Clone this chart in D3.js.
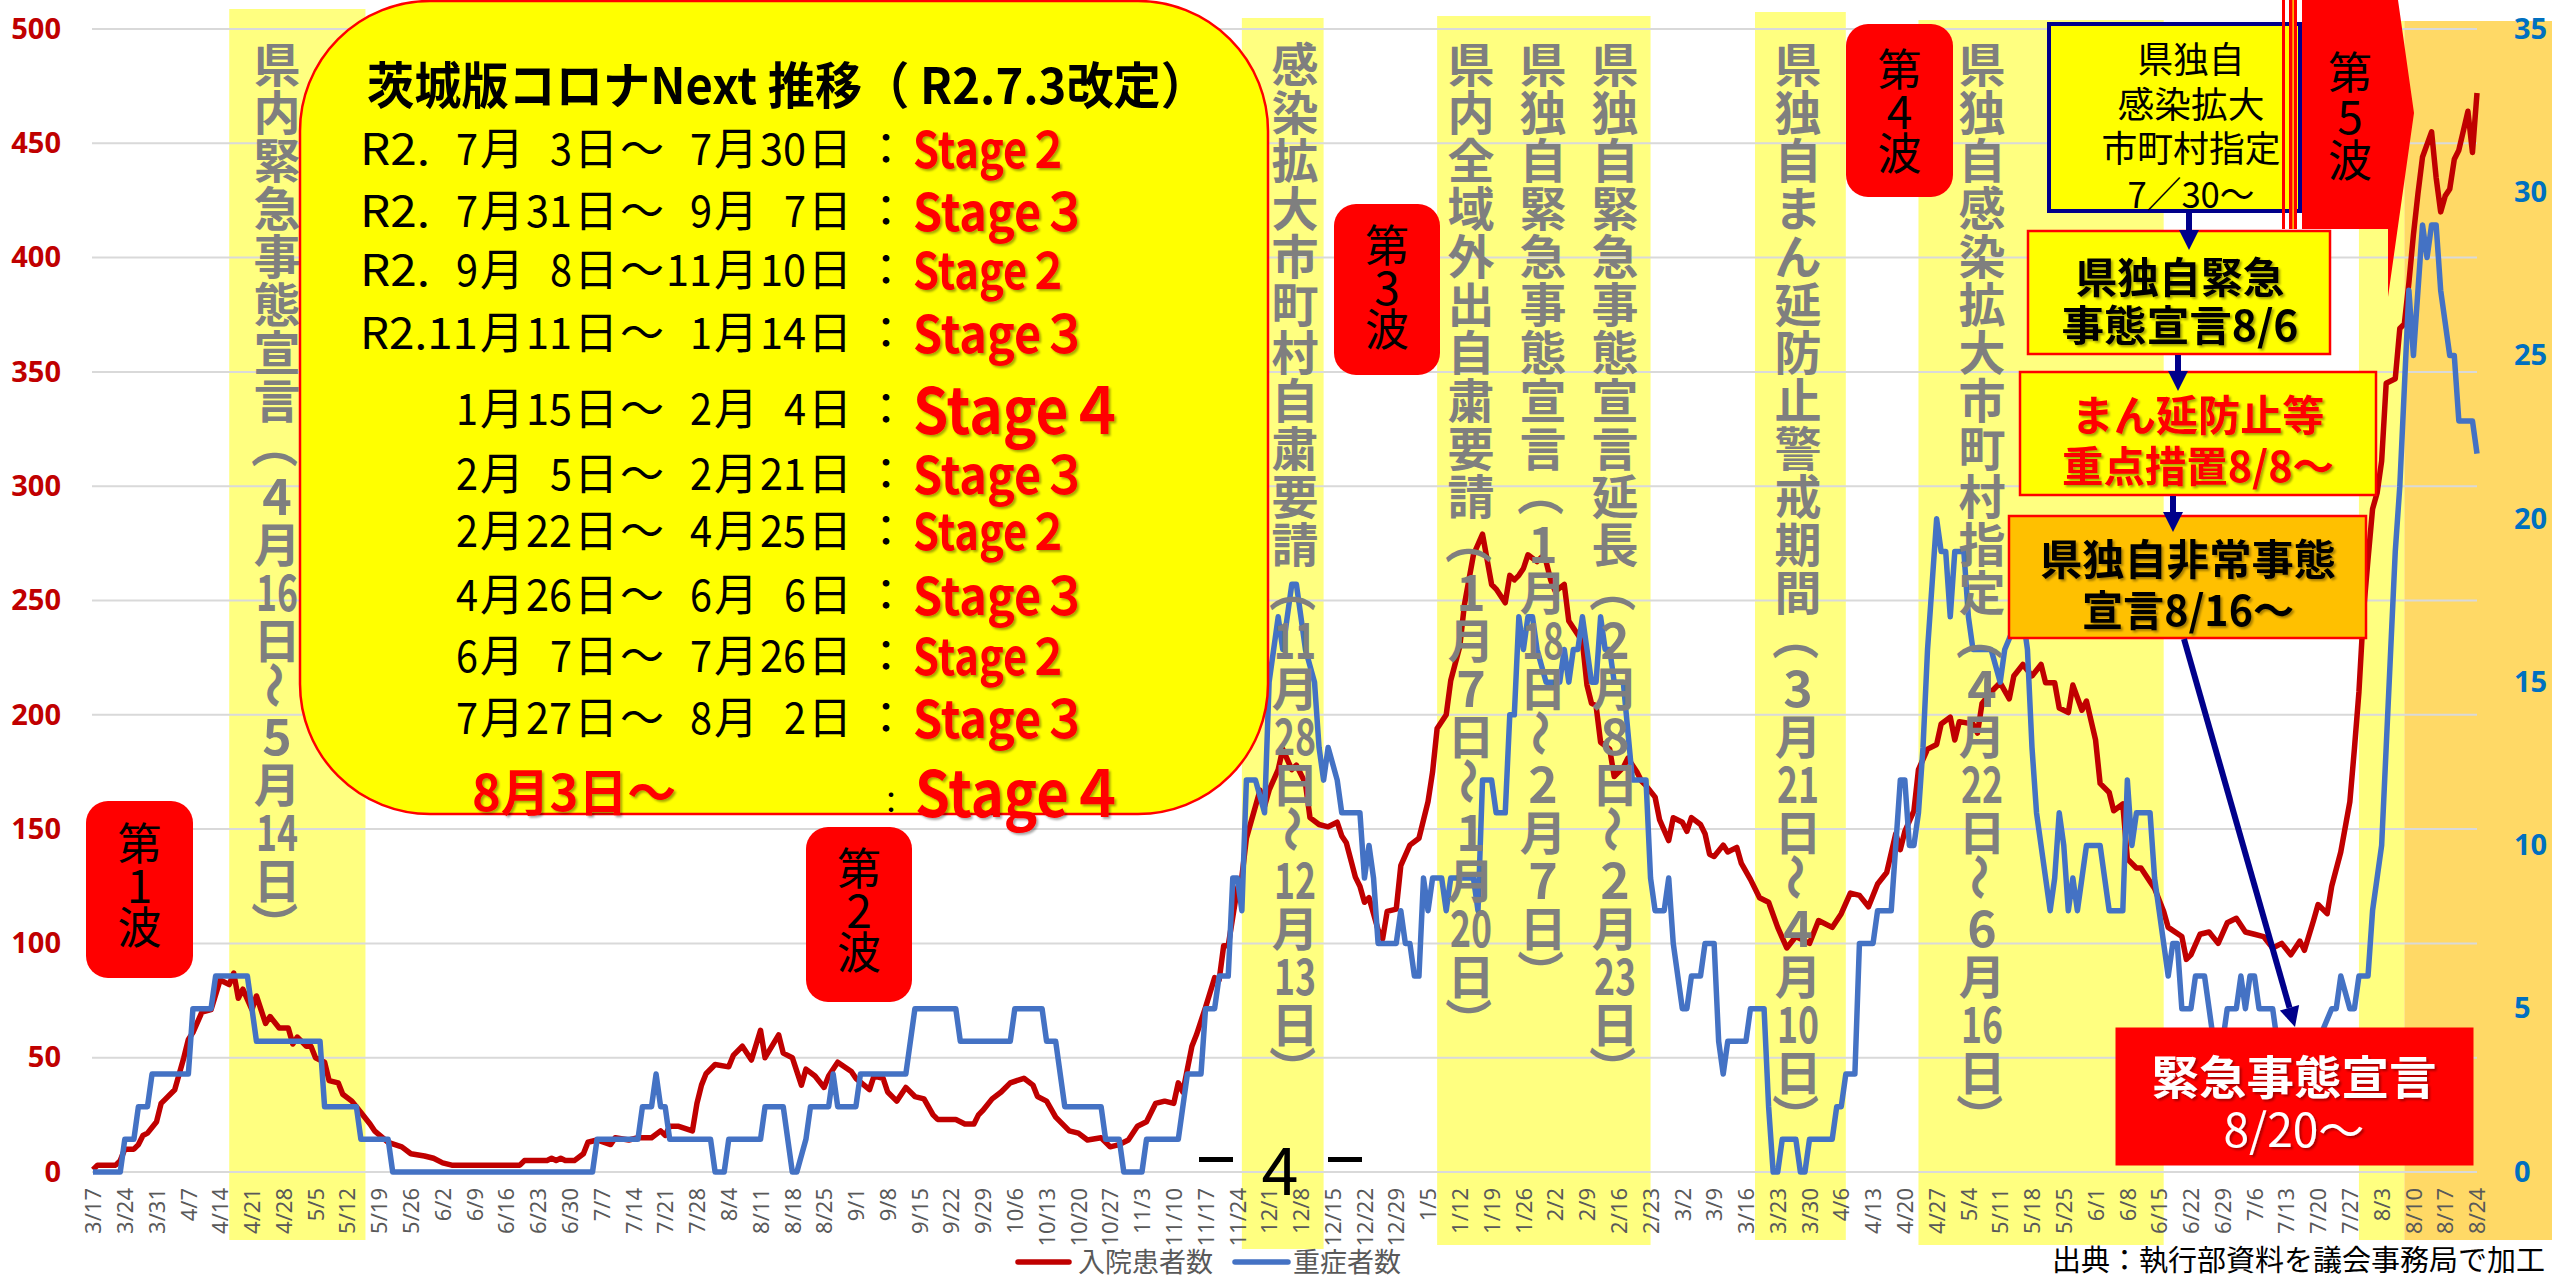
<!DOCTYPE html>
<html>
<head>
<meta charset="utf-8">
<script src="https://cdn.jsdelivr.net/npm/d3@7"></script>
<style>
  body { margin: 0; background: #fff; overflow: hidden; }
  svg { display: block; }
</style>
</head>
<body>
<script>
// ---------------- data ----------------
// weekly category labels on the x axis
const xTicks2020 = ["3/17","3/24","3/31","4/7","4/14","4/21","4/28","5/5","5/12","5/19","5/26","6/2","6/9","6/16","6/23","6/30","7/7","7/14","7/21","7/28","8/4","8/11","8/18","8/25","9/1","9/8","9/15","9/22","9/29","10/6","10/13","10/20","10/27","11/3","11/10","11/17","11/24","12/1","12/8","12/15","12/22","12/29"];
const xTicks2021 = ["1/5","1/12","1/19","1/26","2/2","2/9","2/16","2/23","3/2","3/9","3/16","3/23","3/30","4/6","4/13","4/20","4/27","5/4","5/11","5/18","5/25","6/1","6/8","6/15","6/22","6/29","7/6","7/13","7/20","7/27","8/3","8/10","8/17","8/24"];
const leftTicks = [0, 50, 100, 150, 200, 250, 300, 350, 400, 450, 500];
const rightTicks = [0, 5, 10, 15, 20, 25, 30, 35];

// 入院患者数 (left axis)
const inpatients = [
  ["20/3/17",1],["20/3/18",3],["20/3/22",3],["20/3/23",5],["20/3/24",10],["20/3/26",10],["20/3/27",12],["20/3/28",16],["20/3/29",17],["20/3/31",22],
  ["20/4/1",30],["20/4/2",32],["20/4/4",36],["20/4/6",50],["20/4/7",58],["20/4/8",61],["20/4/10",70],["20/4/12",71],["20/4/14",84],["20/4/16",82],
  ["20/4/17",87],["20/4/18",76],["20/4/19",80],["20/4/21",71],["20/4/22",77],["20/4/24",65],["20/4/25",68],["20/4/27",63],["20/4/29",63],["20/4/30",56],
  ["20/5/1",59],["20/5/3",55],["20/5/4",55],["20/5/5",50],["20/5/7",48],["20/5/8",40],["20/5/10",39],["20/5/11",34],["20/5/13",31],["20/5/15",26],
  ["20/5/17",21],["20/5/18",18],["20/5/21",13],["20/5/24",11],["20/5/26",8],["20/5/29",7],["20/5/31",6],["20/6/2",4],["20/6/4",3],["20/6/19",3],
  ["20/6/20",5],["20/6/25",5],["20/6/26",6],["20/6/27",5],["20/6/28",6],["20/6/29",5],["20/7/1",5],["20/7/3",8],["20/7/4",13],["20/7/6",14],
  ["20/7/9",12],["20/7/10",15],["20/7/13",14],["20/7/15",15],["20/7/18",15],["20/7/20",18],["20/7/21",16],["20/7/22",20],["20/7/24",20],["20/7/27",18],
  ["20/7/28",30],["20/7/29",38],["20/7/30",43],["20/8/1",47],["20/8/4",46],["20/8/5",51],["20/8/7",55],["20/8/9",49],["20/8/11",62],["20/8/12",50],
  ["20/8/15",60],["20/8/16",52],["20/8/18",50],["20/8/20",38],["20/8/21",45],["20/8/23",42],["20/8/25",37],["20/8/26",42],["20/8/28",48],["20/8/31",44],
  ["20/9/1",41],["20/9/4",36],["20/9/5",42],["20/9/7",41],["20/9/8",35],["20/9/10",31],["20/9/12",37],["20/9/14",33],["20/9/16",32],["20/9/18",25],
  ["20/9/19",23],["20/9/23",23],["20/9/25",21],["20/9/27",21],["20/9/28",25],["20/9/29",27],["20/10/1",32],["20/10/3",35],["20/10/5",39],["20/10/8",41],
  ["20/10/10",38],["20/10/11",33],["20/10/13",31],["20/10/15",24],["20/10/18",18],["20/10/20",17],["20/10/22",14],["20/10/25",15],["20/10/27",11],["20/10/29",12],
  ["20/10/31",14],["20/11/2",20],["20/11/4",22],["20/11/6",30],["20/11/8",31],["20/11/10",30],["20/11/11",39],["20/11/12",35],["20/11/14",55],["20/11/15",60],
  ["20/11/17",72],["20/11/19",85],["20/11/20",84],["20/11/21",99],["20/11/22",99],["20/11/24",124],["20/11/25",129],["20/11/26",146],["20/11/28",160],["20/11/29",167],
  ["20/11/30",160],["20/12/1",167],["20/12/3",176],["20/12/4",185],["20/12/6",176],["20/12/7",178],["20/12/9",170],["20/12/10",155],["20/12/12",152],["20/12/14",151],
  ["20/12/16",153],["20/12/17",147],["20/12/18",144],["20/12/20",129],["20/12/21",125],["20/12/22",118],["20/12/23",120],["20/12/25",106],["20/12/26",102],["20/12/27",114],
  ["20/12/29",115],["20/12/30",134],["21/1/1",143],["21/1/3",146],["21/1/5",162],["21/1/6",175],["21/1/7",194],["21/1/9",200],["21/1/10",215],["21/1/12",230],
  ["21/1/13",248],["21/1/15",270],["21/1/17",279],["21/1/19",257],["21/1/20",255],["21/1/22",249],["21/1/23",261],["21/1/24",259],["21/1/25",261],["21/1/26",264],
  ["21/1/27",270],["21/1/29",267],["21/1/30",269],["21/1/31",267],["21/2/1",259],["21/2/2",254],["21/2/4",257],["21/2/5",241],["21/2/7",235],["21/2/8",232],
  ["21/2/9",213],["21/2/10",205],["21/2/11",204],["21/2/12",188],["21/2/14",185],["21/2/15",173],["21/2/17",177],["21/2/18",181],["21/2/20",175],["21/2/21",171],
  ["21/2/22",169],["21/2/24",164],["21/2/25",154],["21/2/27",145],["21/2/28",155],["21/3/2",153],["21/3/3",149],["21/3/4",155],["21/3/6",152],["21/3/7",148],
  ["21/3/8",139],["21/3/9",138],["21/3/11",143],["21/3/12",140],["21/3/14",142],["21/3/15",135],["21/3/17",128],["21/3/19",120],["21/3/21",118],["21/3/23",107],
  ["21/3/25",98],["21/3/27",103],["21/3/30",100],["21/4/1",110],["21/4/4",107],["21/4/6",113],["21/4/8",122],["21/4/10",121],["21/4/12",116],["21/4/14",126],
  ["21/4/16",131],["21/4/18",148],["21/4/19",141],["21/4/20",149],["21/4/22",158],["21/4/23",176],["21/4/25",185],["21/4/27",187],["21/4/28",196],["21/4/30",199],
  ["21/5/1",189],["21/5/2",197],["21/5/5",196],["21/5/6",192],["21/5/7",205],["21/5/9",210],["21/5/11",214],["21/5/13",207],["21/5/14",217],["21/5/16",222],
  ["21/5/18",217],["21/5/20",222],["21/5/21",214],["21/5/23",214],["21/5/24",203],["21/5/26",201],["21/5/27",213],["21/5/29",202],["21/5/30",206],["21/6/1",189],
  ["21/6/2",170],["21/6/4",166],["21/6/5",158],["21/6/7",161],["21/6/8",137],["21/6/10",133],["21/6/11",133],["21/6/13",127],["21/6/14",124],["21/6/16",114],
  ["21/6/17",107],["21/6/20",103],["21/6/21",93],["21/6/22",95],["21/6/24",104],["21/6/26",105],["21/6/28",100],["21/6/30",109],["21/7/2",111],["21/7/4",105],
  ["21/7/6",104],["21/7/8",103],["21/7/10",98],["21/7/12",100],["21/7/14",95],["21/7/16",101],["21/7/17",97],["21/7/19",110],["21/7/20",117],["21/7/22",113],
  ["21/7/23",125],["21/7/25",140],["21/7/27",162],["21/7/28",185],["21/7/29",210],["21/7/30",245],["21/7/31",268],["21/8/1",290],["21/8/2",297],["21/8/3",311],
  ["21/8/4",345],["21/8/6",347],["21/8/7",369],["21/8/8",371],["21/8/9",389],["21/8/10",410],["21/8/11",428],["21/8/12",444],["21/8/14",455],["21/8/15",435],
  ["21/8/16",420],["21/8/17",427],["21/8/18",430],["21/8/19",443],["21/8/20",447],["21/8/22",464],["21/8/23",446],["21/8/24",472]
];

// 重症者数 (right axis)
const severe = [
  ["20/3/17",0],["20/3/23",0],["20/3/24",1],["20/3/26",1],["20/3/27",2],["20/3/29",2],["20/3/30",3],["20/4/7",3],["20/4/8",5],["20/4/12",5],
  ["20/4/13",6],["20/4/20",6],["20/4/21",5],["20/4/22",4],["20/5/6",4],["20/5/7",2],["20/5/14",2],["20/5/15",1],["20/5/21",1],["20/5/22",0],
  ["20/7/5",0],["20/7/6",1],["20/7/15",1],["20/7/16",2],["20/7/18",2],["20/7/19",3],["20/7/20",2],["20/7/21",2],["20/7/22",1],["20/7/31",1],
  ["20/8/1",0],["20/8/3",0],["20/8/4",1],["20/8/11",1],["20/8/12",2],["20/8/16",2],["20/8/18",0],["20/8/19",0],["20/8/21",1],["20/8/22",2],
  ["20/8/26",2],["20/8/27",3],["20/8/28",2],["20/9/1",2],["20/9/2",3],["20/9/12",3],["20/9/13",4],["20/9/14",5],["20/9/23",5],["20/9/24",4],
  ["20/10/5",4],["20/10/6",5],["20/10/12",5],["20/10/13",4],["20/10/15",4],["20/10/17",2],["20/10/25",2],["20/10/26",1],["20/10/29",1],["20/10/30",0],
  ["20/11/3",0],["20/11/4",1],["20/11/11",1],["20/11/13",3],["20/11/16",3],["20/11/17",5],["20/11/19",5],["20/11/20",6],["20/11/22",6],["20/11/23",9],
  ["20/11/24",9],["20/11/25",8],["20/11/26",12],["20/11/28",12],["20/11/30",11],["20/12/1",15],["20/12/3",17],["20/12/4",16],["20/12/6",18],["20/12/7",18],
  ["20/12/9",16],["20/12/11",15],["20/12/12",13],["20/12/13",12],["20/12/14",13],["20/12/16",12],["20/12/17",11],["20/12/21",11],["20/12/22",9],["20/12/23",10],
  ["20/12/24",9],["20/12/25",7],["20/12/29",7],["20/12/30",8],["20/12/31",7],["21/1/1",7],["21/1/2",6],["21/1/3",6],["21/1/4",9],["21/1/5",8],
  ["21/1/6",9],["21/1/8",9],["21/1/9",8],["21/1/10",9],["21/1/15",9],["21/1/16",8],["21/1/17",12],["21/1/19",12],["21/1/20",11],["21/1/22",11],
  ["21/1/23",14],["21/1/24",14],["21/1/25",17],["21/1/26",16],["21/1/27",17],["21/1/28",17],["21/1/29",16],["21/1/31",15],["21/2/3",15],["21/2/4",16],
  ["21/2/5",15],["21/2/6",16],["21/2/7",16],["21/2/8",17],["21/2/9",16],["21/2/10",15],["21/2/11",15],["21/2/12",17],["21/2/13",16],["21/2/14",16],
  ["21/2/15",15],["21/2/17",15],["21/2/19",12],["21/2/22",12],["21/2/23",9],["21/2/24",8],["21/2/26",8],["21/2/27",9],["21/2/28",7],["21/3/2",5],
  ["21/3/3",5],["21/3/4",6],["21/3/6",6],["21/3/7",7],["21/3/9",7],["21/3/10",4],["21/3/11",3],["21/3/12",4],["21/3/16",4],["21/3/17",5],
  ["21/3/20",5],["21/3/21",2],["21/3/22",0],["21/3/23",0],["21/3/24",1],["21/3/27",1],["21/3/28",0],["21/3/29",0],["21/3/30",1],["21/4/4",1],
  ["21/4/5",2],["21/4/6",2],["21/4/7",3],["21/4/9",3],["21/4/10",7],["21/4/13",7],["21/4/14",8],["21/4/17",8],["21/4/18",10],["21/4/19",12],
  ["21/4/20",12],["21/4/21",10],["21/4/22",10],["21/4/23",11],["21/4/24",13],["21/4/25",16],["21/4/26",18],["21/4/27",20],["21/4/28",19],["21/4/29",19],
  ["21/4/30",17],["21/5/1",19],["21/5/3",19],["21/5/4",17],["21/5/5",16],["21/5/9",16],["21/5/11",15],["21/5/12",16],["21/5/15",17],["21/5/16",17],
  ["21/5/17",16],["21/5/18",13],["21/5/19",11],["21/5/21",9],["21/5/22",8],["21/5/23",9],["21/5/24",11],["21/5/25",10],["21/5/26",8],["21/5/27",9],
  ["21/5/28",8],["21/5/29",9],["21/5/30",10],["21/6/2",10],["21/6/3",9],["21/6/4",8],["21/6/7",8],["21/6/8",12],["21/6/9",10],["21/6/10",11],
  ["21/6/13",11],["21/6/14",9],["21/6/15",8],["21/6/17",6],["21/6/18",7],["21/6/19",7],["21/6/20",5],["21/6/22",5],["21/6/23",6],["21/6/25",6],
  ["21/6/26",5],["21/6/27",4],["21/6/29",4],["21/6/30",5],["21/7/2",5],["21/7/3",6],["21/7/4",5],["21/7/5",6],["21/7/6",6],["21/7/7",5],
  ["21/7/10",5],["21/7/11",4],["21/7/14",3],["21/7/17",3],["21/7/20",4],["21/7/23",5],["21/7/24",5],["21/7/25",6],["21/7/27",5],["21/7/28",5],
  ["21/7/29",6],["21/7/31",6],["21/8/1",8],["21/8/3",10],["21/8/4",13],["21/8/5",16],["21/8/6",19],["21/8/7",21],["21/8/8",24],["21/8/9",27],
  ["21/8/10",25],["21/8/11",27],["21/8/12",29],["21/8/13",28],["21/8/14",29],["21/8/15",29],["21/8/16",27],["21/8/17",26],["21/8/18",25],["21/8/19",25],
  ["21/8/20",23],["21/8/23",23],["21/8/24",22]
];

// highlighted periods and their captions
const periods = [
  { from: "20/4/16", to: "20/5/16", labels: ["県内緊急事態宣言（4月16日～5月14日）"] },
  { from: "20/11/25", to: "20/12/13", labels: ["感染拡大市町村自粛要請（11月28日～12月13日）"] },
  { from: "21/1/7", to: "21/2/23", labels: ["県内全域外出自粛要請（1月7日～1月20日）", "県独自緊急事態宣言（1月18日～2月7日）", "県独自緊急事態宣言延長（2月8日～2月23日）"] },
  { from: "21/3/18", to: "21/4/7", labels: ["県独自まん延防止警戒期間（3月21日～4月10日）"] },
  { from: "21/4/23", to: "21/6/16", labels: ["県独自感染拡大市町村指定（4月22日～6月16日）"] },
  { from: "21/7/29", to: "21/8/8", labels: [] }
];
const emergencyFrom = "21/8/8";

const waveLabels = ["第1波", "第2波", "第3波", "第4波", "第5波"];

const boxTitle = "茨城版コロナNext 推移（ R2.7.3改定）";
// fixed-pitch rows: [period, stage]
const stageRows = [
  ["R2. 7月 3日～ 7月30日", "Stage２"],
  ["R2. 7月31日～ 9月 7日", "Stage３"],
  ["R2. 9月 8日～11月10日", "Stage２"],
  ["R2.11月11日～ 1月14日", "Stage３"],
  ["    1月15日～ 2月 4日", "Stage４"],
  ["    2月 5日～ 2月21日", "Stage３"],
  ["    2月22日～ 4月25日", "Stage２"],
  ["    4月26日～ 6月 6日", "Stage３"],
  ["    6月 7日～ 7月26日", "Stage２"],
  ["    7月27日～ 8月 2日", "Stage３"]
];
const lastRow = ["8月3日～", "Stage４"];

const notices = [
  ["県独自", "感染拡大", "市町村指定", "7／30～"],
  ["県独自緊急", "事態宣言8/6"],
  ["まん延防止等", "重点措置8/8～"],
  ["県独自非常事態", "宣言8/16～"],
  ["緊急事態宣言", "8/20～"]
];
const seriesNames = ["入院患者数", "重症者数"];
const pageNumber = "4";
const sourceNote = "出典：執行部資料を議会事務局で加工";

// ---------------- chart ----------------
const W = 2552, H = 1277;
const JP = "'Noto Sans CJK JP', 'Noto Sans', sans-serif";
const parse = d3.utcParse("%y/%m/%d");

const svg = d3.select("body").append("svg")
  .attr("width", W).attr("height", H)
  .style("background", "#fff");

const defs = svg.append("defs");
defs.append("filter").attr("id", "sh").attr("x", "-5%").attr("y", "-10%").attr("width", "115%").attr("height", "130%")
  .append("feDropShadow").attr("dx", 2).attr("dy", 2).attr("stdDeviation", 1.2)
  .attr("flood-color", "#000").attr("flood-opacity", 0.35);

const x = d3.scaleUtc().domain([parse("20/3/17"), parse("21/8/24")]).range([93, 2477]);
const yL = d3.scaleLinear().domain([0, 500]).range([1172, 29]);
const yR = d3.scaleLinear().domain([0, 35]).range([1172, 29]);

// period bands
const bandTop = [9, 18, 16, 12, 20, 21];
const bandBottom = [1240, 1249, 1245, 1240, 1245, 1240];
const bands = svg.append("g");
periods.forEach((p, i) => {
  bands.append("rect")
    .attr("x", x(parse(p.from))).attr("y", bandTop[i])
    .attr("width", x(parse(p.to)) - x(parse(p.from)))
    .attr("height", bandBottom[i] - bandTop[i])
    .attr("fill", "#FFFF80");
});
bands.append("rect")
  .attr("x", x(parse(emergencyFrom))).attr("y", 21)
  .attr("width", W - x(parse(emergencyFrom))).attr("height", 1240 - 21)
  .attr("fill", "#FFD966");

// gridlines
svg.append("g").selectAll("line").data(leftTicks).join("line")
  .attr("x1", 92).attr("x2", 2477)
  .attr("y1", d => yL(d)).attr("y2", d => yL(d))
  .attr("stroke", "#D9D9D9").attr("stroke-width", 2);

// axes (font attributes set after the call, d3.axis resets them)
const labels = xTicks2020.concat(xTicks2021);
const tickDates = xTicks2020.map(s => parse("20/" + s)).concat(xTicks2021.map(s => parse("21/" + s)));

svg.append("g")
  .attr("transform", "translate(0,1172)")
  .call(d3.axisBottom(x).tickValues(tickDates).tickFormat((d, i) => labels[i]).tickSize(0))
  .call(g => g.select(".domain").remove())
  .attr("font-family", "'Noto Sans', sans-serif").attr("font-size", 22)
  .selectAll("text")
  .attr("transform", "rotate(-90)")
  .attr("text-anchor", "end")
  .attr("x", -16).attr("y", 0).attr("dy", "0.35em")
  .attr("fill", "#595959");

svg.append("g")
  .attr("transform", "translate(92,0)")
  .call(d3.axisLeft(yL).tickValues(leftTicks).tickSize(0).tickPadding(31))
  .call(g => g.select(".domain").remove())
  .attr("font-family", "'Noto Sans', sans-serif").attr("font-size", 29).attr("font-weight", 700)
  .selectAll("text").attr("fill", "#C00000");

svg.append("g")
  .attr("transform", "translate(2477,0)")
  .call(d3.axisRight(yR).tickValues(rightTicks).tickSize(0).tickPadding(37))
  .call(g => g.select(".domain").remove())
  .attr("font-family", "'Noto Sans', sans-serif").attr("font-size", 29).attr("font-weight", 700)
  .selectAll("text").attr("fill", "#0070C0");

// series lines
svg.append("path").datum(inpatients)
  .attr("fill", "none").attr("stroke", "#C00000").attr("stroke-width", 5.5)
  .attr("stroke-linejoin", "round")
  .attr("d", d3.line().x(d => x(parse(d[0]))).y(d => yL(d[1])));
svg.append("path").datum(severe)
  .attr("fill", "none").attr("stroke", "#4472C4").attr("stroke-width", 5.5)
  .attr("stroke-linejoin", "round")
  .attr("d", d3.line().x(d => x(parse(d[0]))).y(d => yR(d[1])));

// vertical (tategaki) text
function vertical(g, str, cx, y0, o) {
  const tokens = str.match(/\d+|./gu);
  tokens.forEach((t, i) => {
    const cy = y0 + i * o.pitch;
    const el = g.append("text")
      .attr("x", cx).attr("y", cy)
      .attr("text-anchor", "middle").attr("dominant-baseline", "central")
      .text(t);
    if (/\d/.test(t)) {
      el.attr("font-size", o.digitSize);
      if (t.length > 1) el.attr("textLength", o.pairWidth).attr("lengthAdjust", "spacingAndGlyphs");
    } else if ("（）～".includes(t)) {
      el.attr("transform", `rotate(90,${cx},${cy})`);
    }
  });
}

// fixed-pitch horizontal text: half width h, full width f.
// runs of half-width characters are set as one piece squeezed to their cells
function monoText(g, str, x0, y, h, f) {
  let cx = x0;
  const runs = str.match(/ +|[\x21-\xff]+|[^\x00-\xff]/gu);
  runs.forEach(run => {
    if (run[0] === " ") { cx += run.length * h; return; }
    if (run.charCodeAt(0) > 0xff) {
      g.append("text").attr("x", cx + f / 2).attr("y", y)
        .attr("text-anchor", "middle").attr("dominant-baseline", "central").text(run);
      cx += f;
    } else {
      g.append("text").attr("x", cx + 1).attr("y", y).attr("dominant-baseline", "central")
        .attr("textLength", run.length * h - 2).attr("lengthAdjust", "spacingAndGlyphs").text(run);
      cx += run.length * h;
    }
  });
}

const periodLabelX = [[277], [1295], [1471, 1543, 1615], [1798], [1982], []];
const captions = svg.append("g")
  .attr("font-family", JP).attr("font-size", 47).attr("font-weight", 700).attr("fill", "#7F7F7F");
periods.forEach((p, i) => {
  p.labels.forEach((s, j) => vertical(captions, s, periodLabelX[i][j], 61, { pitch: 48, digitSize: 50, pairWidth: 42 }));
});

// wave markers
const waveBoxes = [
  { x: 86, y: 801, w: 107, h: 177, cy: 841 },
  { x: 806, y: 827, w: 106, h: 175, cy: 866 },
  { x: 1334, y: 204, w: 106, h: 171, cy: 243 },
  { x: 1846, y: 24, w: 107, h: 173, cy: 67 }
];
const waves = svg.append("g").attr("font-family", JP).attr("font-size", 44).attr("fill", "#000");
waveBoxes.forEach((b, i) => {
  waves.append("rect").attr("x", b.x).attr("y", b.y).attr("width", b.w).attr("height", b.h)
    .attr("rx", 22).attr("fill", "#FF0000");
  vertical(waves, waveLabels[i], b.x + b.w / 2, b.cy, { pitch: 42, digitSize: 46, pairWidth: 40 });
});

// Stage table box
const sb = svg.append("g").attr("font-family", JP);
sb.append("rect").attr("x", 300).attr("y", 1).attr("width", 968).attr("height", 813)
  .attr("rx", 130).attr("fill", "#FFFF00").attr("stroke", "#FF0000").attr("stroke-width", 2.5);
sb.append("text").attr("x", 367).attr("y", 82).attr("dominant-baseline", "central")
  .attr("font-size", 50).attr("font-weight", 700)
  .attr("textLength", 841).attr("lengthAdjust", "spacingAndGlyphs")
  .text(boxTitle);

const rowY = [146, 208, 267, 330, 406, 471, 528, 592, 653, 715];
const stageStyle = { "Stage２": [50, 156], "Stage３": [52, 175], "Stage４": [64, 212] };
const rowsG = sb.append("g").attr("font-size", 44).attr("fill", "#000");
stageRows.forEach((r, i) => {
  const y = rowY[i];
  monoText(rowsG, r[0], 359, y, 24, 46);
  rowsG.append("text").attr("x", 886).attr("y", y).attr("text-anchor", "middle")
    .attr("dominant-baseline", "central").text("：");
  const st = stageStyle[r[1]];
  sb.append("text").attr("x", 913).attr("y", y).attr("dominant-baseline", "central")
    .attr("font-size", st[0]).attr("font-weight", 700).attr("fill", "#FF0000")
    .attr("textLength", st[1]).attr("lengthAdjust", "spacingAndGlyphs")
    .attr("filter", "url(#sh)").text(r[1]);
});
sb.append("text").attr("x", 472).attr("y", 789).attr("dominant-baseline", "central")
  .attr("font-size", 50).attr("font-weight", 700).attr("fill", "#FF0000")
  .attr("textLength", 204).attr("lengthAdjust", "spacingAndGlyphs")
  .attr("filter", "url(#sh)").text(lastRow[0]);
sb.append("text").attr("x", 891).attr("y", 800).attr("dominant-baseline", "central")
  .attr("text-anchor", "middle").attr("font-size", 30).text("：");
sb.append("text").attr("x", 915).attr("y", 789).attr("dominant-baseline", "central")
  .attr("font-size", 64).attr("font-weight", 700).attr("fill", "#FF0000")
  .attr("textLength", 210).attr("lengthAdjust", "spacingAndGlyphs")
  .attr("filter", "url(#sh)").text(lastRow[1]);

// right-hand notices
const nb = svg.append("g").attr("font-family", JP);
const noticeBoxes = [
  { x: 2049, y: 24, w: 251, h: 187, fill: "#FFFF00", stroke: "#00008B", sw: 4, color: "#000", weight: 400, size: 36, cx: 2191, ys: [57, 102, 146, 192], widths: [107, 147, 179, 127], shadow: false },
  { x: 2028, y: 231, w: 302, h: 123, fill: "#FFFF00", stroke: "#FF0000", sw: 2.5, color: "#000", weight: 700, size: 42, cx: 2180, ys: [274, 322], widths: [209, 237], shadow: true },
  { x: 2020, y: 372, w: 356, h: 123, fill: "#FFFF00", stroke: "#FF0000", sw: 2.5, color: "#FF0000", weight: 700, size: 42, cx: 2198, ys: [412, 463], widths: [253, 272], shadow: true },
  { x: 2009, y: 516, w: 357, h: 122, fill: "#FFC000", stroke: "#FF0000", sw: 2.5, color: "#000", weight: 700, size: 42, cx: 2188, ys: [556, 607], widths: [296, 212], shadow: true },
  { x: 2116, y: 1028, w: 357, h: 137, fill: "#FF0000", stroke: "#FF0000", sw: 1, color: "#FFF", weight: [700, 400], size: 46, cx: 2294, ys: [1074, 1127], widths: [285, 141], shadow: true }
];

// arrows
function arrow(x1, y1, x2, y2) {
  const a = Math.atan2(y2 - y1, x2 - x1), L = 20, Wd = 10;
  const bx = x2 - L * Math.cos(a), by = y2 - L * Math.sin(a);
  nb.append("line").attr("x1", x1).attr("y1", y1).attr("x2", bx).attr("y2", by)
    .attr("stroke", "#00008B").attr("stroke-width", 6);
  nb.append("polygon").attr("fill", "#00008B").attr("points", [
    [x2, y2],
    [bx + Wd * Math.sin(a), by - Wd * Math.cos(a)],
    [bx - Wd * Math.sin(a), by + Wd * Math.cos(a)]
  ].map(p => p.join(",")).join(" "));
}

noticeBoxes.forEach((b, i) => {
  nb.append("rect").attr("x", b.x).attr("y", b.y).attr("width", b.w).attr("height", b.h)
    .attr("fill", b.fill).attr("stroke", b.stroke).attr("stroke-width", b.sw);
  notices[i].forEach((s, j) => {
    const t = nb.append("text").attr("x", b.cx).attr("y", b.ys[j])
      .attr("text-anchor", "middle").attr("dominant-baseline", "central")
      .attr("font-size", b.size)
      .attr("font-weight", Array.isArray(b.weight) ? b.weight[j] : b.weight)
      .attr("fill", b.color)
      .attr("textLength", b.widths[j]).attr("lengthAdjust", "spacingAndGlyphs")
      .text(s);
    if (b.shadow) t.attr("filter", "url(#sh)");
  });
});
arrow(2189, 212, 2189, 250);
arrow(2178, 355, 2178, 391);
arrow(2173, 496, 2173, 532);
arrow(2184, 639, 2295, 1027);

// wave 5 marker with double rule
nb.append("rect").attr("x", 2282).attr("y", 0).attr("width", 3).attr("height", 229).attr("fill", "#FF0000");
nb.append("rect").attr("x", 2289).attr("y", 0).attr("width", 8).attr("height", 229).attr("fill", "#FF0000");
nb.append("rect").attr("x", 2292.5).attr("y", 0).attr("width", 1.2).attr("height", 229).attr("fill", "#FFFF00");
nb.append("polygon").attr("fill", "#FF0000")
  .attr("points", "2302,0 2398,0 2414,113 2388,297 2388,229 2302,229");
vertical(nb.append("g").attr("font-size", 44).attr("fill", "#000"), waveLabels[4], 2350, 70, { pitch: 44, digitSize: 46, pairWidth: 40 });

// page number
svg.append("rect").attr("x", 1199).attr("y", 1157).attr("width", 34).attr("height", 5).attr("fill", "#000");
svg.append("rect").attr("x", 1328).attr("y", 1157).attr("width", 34).attr("height", 5).attr("fill", "#000");
svg.append("text").attr("x", 1280).attr("y", 1166).attr("text-anchor", "middle").attr("dominant-baseline", "central")
  .attr("font-family", JP).attr("font-size", 66)
  .attr("textLength", 37).attr("lengthAdjust", "spacingAndGlyphs").text(pageNumber);

// legend
const lg = svg.append("g").attr("font-family", JP).attr("font-size", 27).attr("fill", "#595959");
[[1018, 1069, 1078, "#C00000"], [1235, 1288, 1293, "#4472C4"]].forEach((d, i) => {
  lg.append("line").attr("x1", d[0]).attr("x2", d[1]).attr("y1", 1262).attr("y2", 1262)
    .attr("stroke", d[3]).attr("stroke-width", 5.5).attr("stroke-linecap", "round");
  lg.append("text").attr("x", d[2]).attr("y", 1260).attr("dominant-baseline", "central").text(seriesNames[i]);
});

// source
svg.append("text").attr("x", 2545).attr("y", 1258).attr("text-anchor", "end").attr("dominant-baseline", "central")
  .attr("font-family", JP).attr("font-size", 29).attr("fill", "#000").text(sourceNote);
</script>
</body>
</html>
